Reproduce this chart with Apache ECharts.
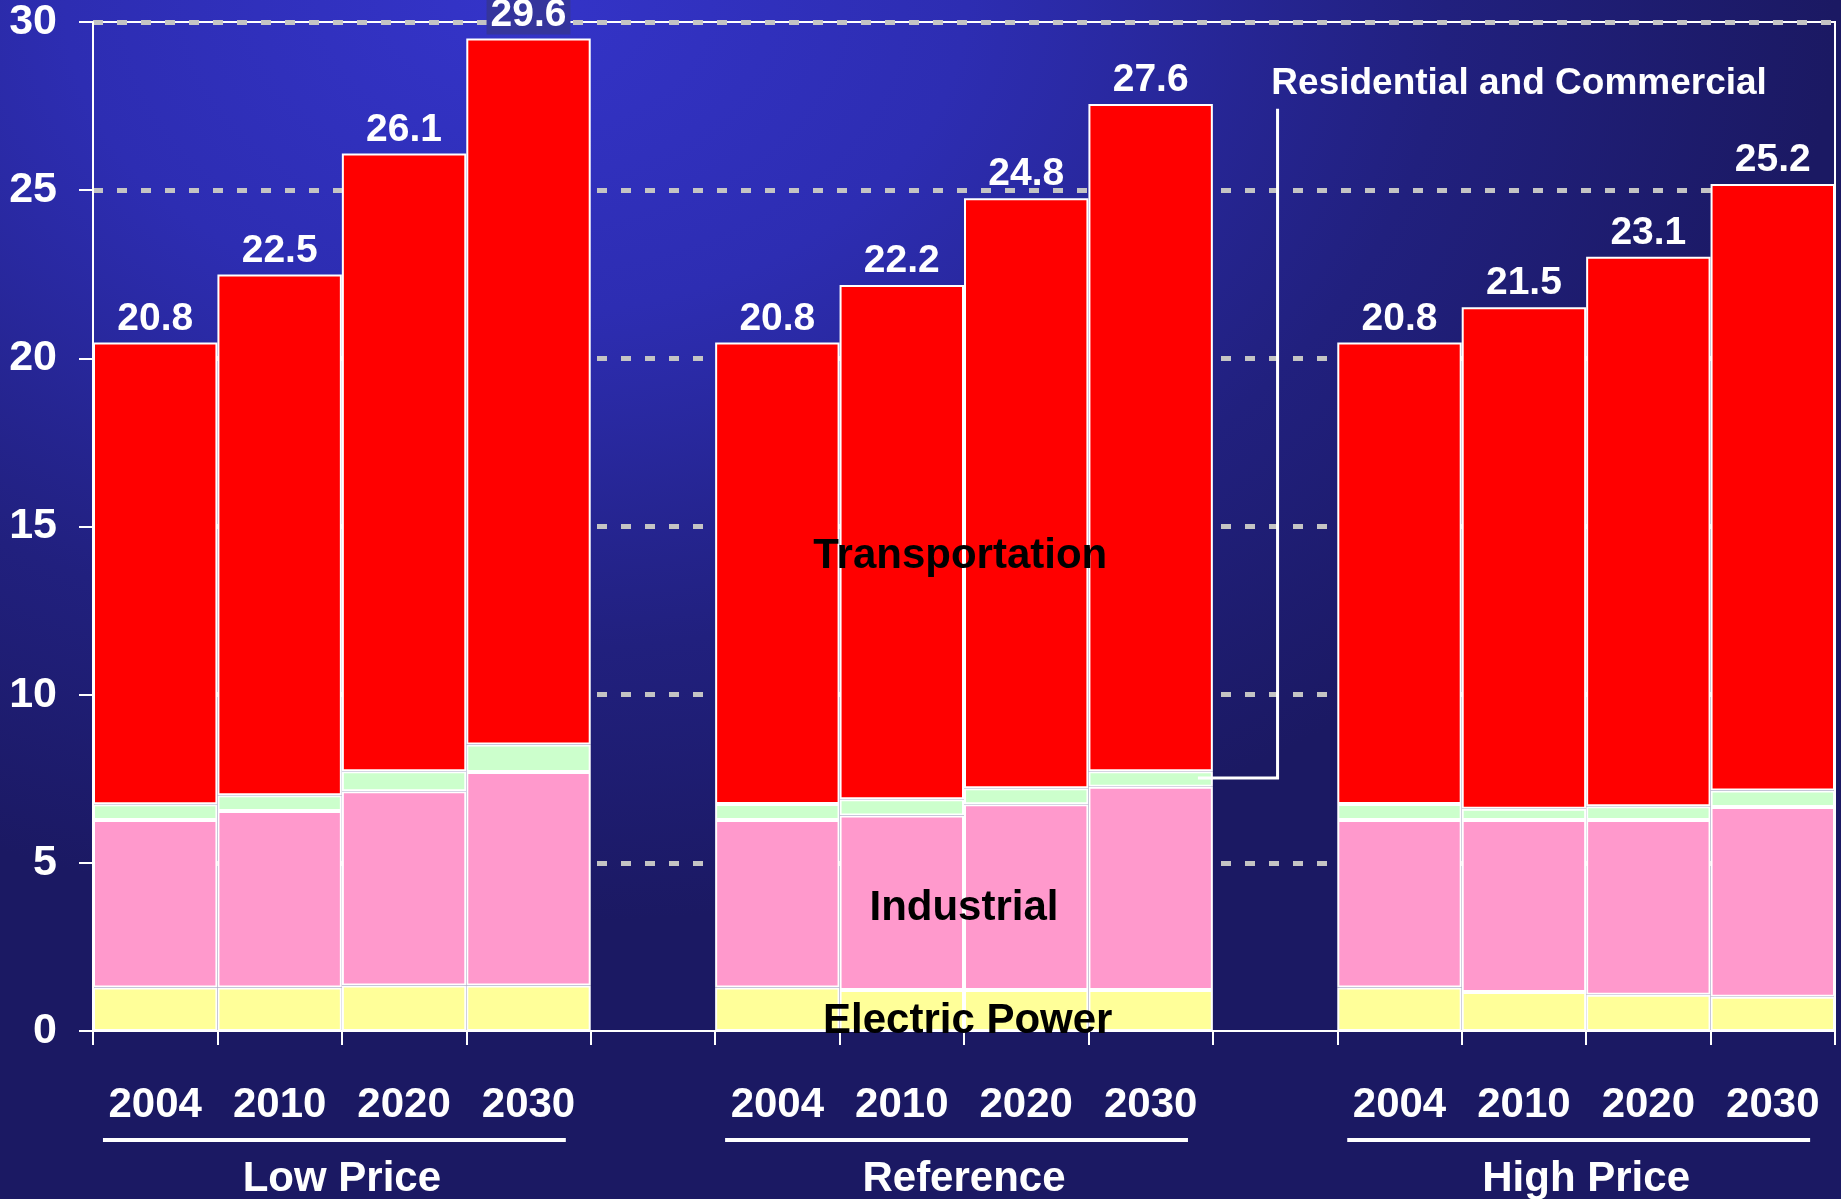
<!DOCTYPE html>
<html>
<head>
<meta charset="utf-8">
<script src="https://cdn.jsdelivr.net/npm/echarts@6/dist/echarts.min.js"></script>
<style>
html, body { margin: 0; padding: 0; }
body {
  width: 1841px; height: 1199px; overflow: hidden;
  background: radial-gradient(ellipse 1500px 1050px at 28% 0%, #3434c9 0%, #2d2db2 30%, #21207e 62%, #1b1963 88%);
}
#main { width: 1841px; height: 1199px; }
</style>
</head>
<body>
<div id="main"></div>
<script>
// cases, each with 4 years: Low Price, Reference, High Price
var years = ['2004', '2010', '2020', '2030'];
var cases = ['Low Price', 'Reference', 'High Price'];

// segment heights (Low x4, Reference x4, High x4)
var electricPower = [1.29, 1.29, 1.35, 1.35,  1.29, 1.22, 1.22, 1.22,  1.29, 1.16, 1.08, 1.02];
var industrial    = [4.98, 5.25, 5.78, 6.35,  4.98, 5.19, 5.52, 6.04,  4.98, 5.11, 5.19, 5.64];
var resCom        = [0.47, 0.47, 0.59, 0.82,  0.48, 0.48, 0.48, 0.46,  0.48, 0.34, 0.41, 0.49];
var transport     = [13.73, 15.48, 18.37, 20.99,  13.72, 15.29, 17.54, 19.84,  13.72, 14.91, 16.34, 18.03];
// total labels printed above the bars
var totals = ['20.8', '22.5', '26.1', '29.6',  '20.8', '22.2', '24.8', '27.6',  '20.8', '21.5', '23.1', '25.2'];

var yTicks = [0, 5, 10, 15, 20, 25, 30];

var FONT = "'Liberation Sans', Arial, sans-serif";

// put an empty slot between the cases
function withGaps(arr, gap) {
  return arr.slice(0, 4).concat([gap], arr.slice(4, 8), [gap], arr.slice(8, 12));
}

var categories = withGaps(years.concat(years, years), '');
var totalLabels = withGaps(totals, '');

// the label of the tallest bar sits on the top gridline, with a box behind it
var stackTops = withGaps(electricPower.map(function (e, i) {
  return e + industrial[i] + resCom[i] + transport[i];
}), '-');
var transportData = withGaps(transport, '-').map(function (v, i) {
  if (v === '-') return v;
  var item = { value: v };
  if (stackTops[i] > 29) {
    item.label = { backgroundColor: '#35359c', padding: [0, 4, 0, 4] };
  }
  return item;
});

var myChart = echarts.init(document.getElementById('main'));

var option = {
  backgroundColor: 'transparent',
  animation: false,
  grid: {
    left: 93, right: 6, top: 22, bottom: 168,
    show: true, borderColor: '#ffffff', borderWidth: 2,
    backgroundColor: 'transparent'
  },
  xAxis: {
    type: 'category',
    data: categories,
    axisLine: { lineStyle: { color: '#ffffff', width: 2 } },
    axisTick: { show: true, interval: 0, length: 14, lineStyle: { color: '#ffffff', width: 2 } },
    axisLabel: {
      interval: 0, margin: 53, color: '#ffffff',
      fontSize: 42, fontWeight: 'bold', fontFamily: FONT
    }
  },
  yAxis: {
    type: 'value',
    min: yTicks[0], max: yTicks[yTicks.length - 1], interval: 5,
    axisLine: { show: true, lineStyle: { color: '#ffffff', width: 2 } },
    axisTick: { show: true, length: 14, lineStyle: { color: '#ffffff', width: 2 } },
    axisLabel: {
      margin: 36, color: '#ffffff',
      fontSize: 43, fontWeight: 'bold', fontFamily: FONT
    },
    splitLine: {
      show: true, showMinLine: false,
      lineStyle: { color: '#c4c4c4', width: 5, type: [10, 14] }
    }
  },
  series: [
    {
      name: 'Electric Power', type: 'bar', stack: 'total', barCategoryGap: '0%',
      data: withGaps(electricPower, '-'),
      itemStyle: { color: '#ffff99', borderColor: '#ffffff', borderWidth: 2 }
    },
    {
      name: 'Industrial', type: 'bar', stack: 'total',
      data: withGaps(industrial, '-'),
      itemStyle: { color: '#ff99cc', borderColor: '#ffffff', borderWidth: 2 }
    },
    {
      name: 'Residential and Commercial', type: 'bar', stack: 'total',
      data: withGaps(resCom, '-'),
      itemStyle: { color: '#ccffcc', borderColor: '#ffffff', borderWidth: 2 }
    },
    {
      name: 'Transportation', type: 'bar', stack: 'total',
      data: transportData,
      itemStyle: { color: '#ff0000', borderColor: '#ffffff', borderWidth: 2 },
      label: {
        show: true, position: 'top', distance: 4,
        color: '#ffffff', fontSize: 39, fontWeight: 'bold', fontFamily: FONT,
        formatter: function (p) { return totalLabels[p.dataIndex]; }
      }
    }
  ]
};

myChart.setOption(option);

// annotations, placed through the axes
var c0 = myChart.convertToPixel({ xAxisIndex: 0 }, 0);
var c1 = myChart.convertToPixel({ xAxisIndex: 0 }, 1);
var slotW = c1 - c0;
function sx(s) { return c0 - slotW / 2 + s * slotW; }
function vy(v) { return myChart.convertToPixel({ yAxisIndex: 0 }, v); }
var y0 = vy(0);

var graphics = [];
cases.forEach(function (name, g) {
  var s = g * 5;
  graphics.push({
    type: 'line', z: 100,
    shape: { x1: sx(s + 0.08), y1: y0 + 109, x2: sx(s + 3.8), y2: y0 + 109 },
    style: { stroke: '#ffffff', lineWidth: 4 }
  });
  graphics.push({
    type: 'text', z: 100,
    style: {
      text: name, x: sx(s + 2), y: y0 + 148,
      fill: '#ffffff', font: 'bold 42px ' + FONT,
      textAlign: 'center', textVerticalAlign: 'middle'
    }
  });
});

function sectorText(txt, s, v, color, size, align) {
  return {
    type: 'text', z: 100,
    style: {
      text: txt, x: sx(s), y: vy(v),
      fill: color, font: 'bold ' + size + 'px ' + FONT,
      textAlign: align || 'center', textVerticalAlign: 'middle'
    }
  };
}
graphics.push(sectorText('Transportation', 6.97, 14.1, '#000000', 42));
graphics.push(sectorText('Industrial', 7, 3.65, '#000000', 42));
graphics.push(sectorText('Electric Power', 7.03, 0.27, '#000000', 42));
graphics.push(sectorText('Residential and Commercial', 9.47, 28.15, '#ffffff', 37, 'left'));
graphics.push({
  type: 'polyline', z: 100,
  shape: { points: [[sx(9.52), vy(27.42)], [sx(9.52), vy(7.52)], [sx(8.88), vy(7.52)]] },
  style: { stroke: '#ffffff', lineWidth: 3, fill: null }
});

myChart.setOption({ graphic: graphics });
</script>
</body>
</html>
